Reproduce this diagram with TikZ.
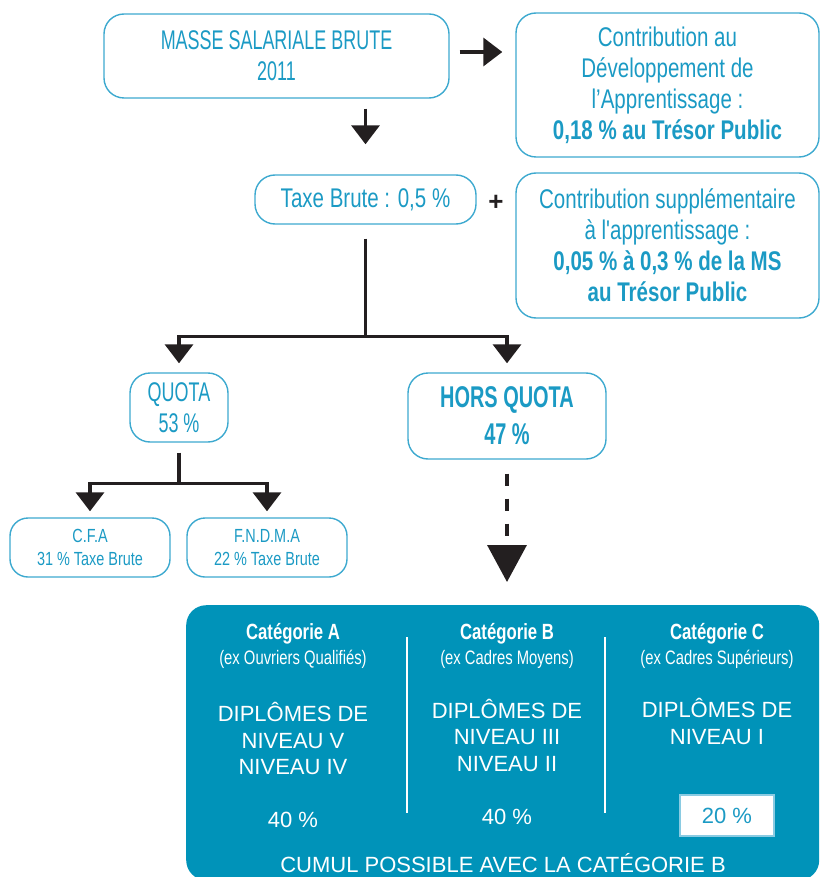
\documentclass[tikz,border=0pt]{standalone}
\usepackage{fontspec}
\setmainfont{Liberation Sans}
\newfontfamily\condfont{Liberation Sans}[FakeStretch=0.76]
\newfontfamily\capsfont{Liberation Sans}[FakeStretch=0.665]
\usetikzlibrary{arrows.meta,positioning}
\definecolor{tealtext}{HTML}{1B9AC4}
\definecolor{boxline}{HTML}{3DA9CF}
\definecolor{panelfill}{HTML}{0093B9}
\definecolor{pctline}{HTML}{8ACBE2}
\definecolor{arrowblack}{HTML}{231F20}
\newcommand\mainboxfont{\condfont\fontsize{27}{31}\selectfont}
\newcommand\capsboxfont{\capsfont\fontsize{27}{31}\selectfont}
\newcommand\subboxfont{\condfont\fontsize{19}{23}\selectfont}
\newcommand\horsfont{\capsfont\bfseries\fontsize{30}{37}\selectfont}
\newcommand\catfont{\condfont\fontsize{19.5}{25}\selectfont}
\newcommand\cattitle[1]{{\bfseries\fontsize{22}{25}\selectfont #1}}
\newcommand\diplfont{\fontsize{22}{26.5}\selectfont}
\tikzset{>={Triangle[width=28pt,length=19pt]},
         box/.style={draw=boxline, line width=1.4pt, rounded corners=20pt,
                     text=tealtext, align=center, font=\mainboxfont, inner sep=0pt},
         link/.style={draw=arrowblack, line width=3.5pt},
         panel/.style={fill=panelfill, rounded corners=20pt, inner sep=0pt},
         intext/.style={text=white, align=center, inner sep=0pt},
         colsep/.style={draw=white, line width=2pt},
         pctbox/.style={fill=white, draw=pctline, line width=2pt, text=tealtext,
                        font=\diplfont, inner sep=0pt, minimum width=94pt, minimum height=41pt}}
\begin{document}
\begin{tikzpicture}[x=1pt,y=-1pt]
	\useasboundingbox (0,0) rectangle (820,877);

	\node[box, font=\capsboxfont, minimum width=345pt, minimum height=84pt] (ms) at (276.5,56) {MASSE SALARIALE BRUTE\\2011};
	\node[box, minimum width=303pt, minimum height=144pt] (cda) at (667.5,85)
	  {Contribution au\\Développement de\\l’Apprentissage :\\\textbf{0,18 \% au Trésor Public}};
	\node[box, minimum width=221pt, minimum height=49pt] (taxe) at (365.5,199.5) {Taxe Brute : 0,5 \%};
	\node[font=\bfseries\fontsize{26}{26}\selectfont, text=arrowblack, inner sep=0pt] (plus) at (496,203) {+};
	\node[box, minimum width=303pt, minimum height=145pt] (csa) at (667.5,245.5)
	  {Contribution supplémentaire\\à l\symbol{39}apprentissage :\\\textbf{0,05 \% à 0,3 \% de la MS}\\\textbf{au Trésor Public}};
	\node[box, font=\capsboxfont, minimum width=98pt, minimum height=69pt] (quota) at (179,407.5) {QUOTA\\53 \%};
	\node[box, font=\horsfont, minimum width=198pt, minimum height=86pt] (hq) at (507,416) {HORS QUOTA\\47 \%};
	\node[box, font=\subboxfont, rounded corners=18pt, minimum width=160pt, minimum height=59pt] (cfa) at (90,547.5)
	  {C.F.A\\31 \% Taxe Brute};
	\node[box, font=\subboxfont, rounded corners=18pt, minimum width=160pt, minimum height=59pt] (fndma) at (267,547.5)
	  {F.N.D.M.A\\22 \% Taxe Brute};

	\node[panel, anchor=north west, minimum width=633pt, minimum height=275pt] (panel) at (186,605) {};
	\node[intext, font=\catfont] (catA) at (293,645.5) {\cattitle{Catégorie A}\\(ex Ouvriers Qualifiés)};
	\node[intext, font=\catfont] (catB) at (507,645.5) {\cattitle{Catégorie B}\\(ex Cadres Moyens)};
	\node[intext, font=\catfont] (catC) at (717,645.5) {\cattitle{Catégorie C}\\(ex Cadres Supérieurs)};
	\node[intext, font=\diplfont] (diplA) at (293,738.5) {DIPLÔMES DE\\NIVEAU V\\NIVEAU IV};
	\node[intext, font=\diplfont] (diplB) at (507,735) {DIPLÔMES DE\\NIVEAU III\\NIVEAU II};
	\node[intext, font=\diplfont] (diplC) at (717,721.5) {DIPLÔMES DE\\NIVEAU I};
	\node[intext, font=\diplfont] (pctA) at (293,820) {40 \%};
	\node[intext, font=\diplfont] (pctB) at (507,817) {40 \%};
	\node[pctbox] (pctC) at (727,815.5) {20 \%};
	\node[intext, font=\fontsize{22}{22}\selectfont] (cumul) at (503,863) {CUMUL POSSIBLE AVEC LA CATÉGORIE B};
	\draw[colsep] (407,637) -- (407,813);
	\draw[colsep] (605,637) -- (605,813);

	\draw[link, ->, shorten <=10pt, shorten >=13pt] ([yshift=4pt]ms.east) -- ([yshift=4pt]ms.east -| cda.west);
	\draw[link, ->, shorten <=10pt, shorten >=30pt] (taxe.north |- ms.south) -- (taxe.north);
	\coordinate (split) at ([yshift=-112pt]taxe.south);
	\draw[link] ([yshift=-14pt]taxe.south) -- (split);
	\draw[link, ->, shorten >=9pt] (split) -| (quota.north);
	\draw[link, ->, shorten >=9pt] (split) -| (hq.north);
	\coordinate (qsplit) at ([yshift=-41pt]quota.south);
	\draw[link] ([yshift=-10pt]quota.south) -- (qsplit);
	\draw[link, ->, shorten >=6pt] (qsplit) -| (cfa.north);
	\draw[link, ->, shorten >=6pt] (qsplit) -| (fndma.north);
	\draw[link, dash pattern=on 12pt off 13pt, -{Triangle[width=39pt,length=37pt]}, shorten <=14pt, shorten >=23pt]
	  (hq.south) -- (hq.south |- panel.north);
\end{tikzpicture}
\end{document}
